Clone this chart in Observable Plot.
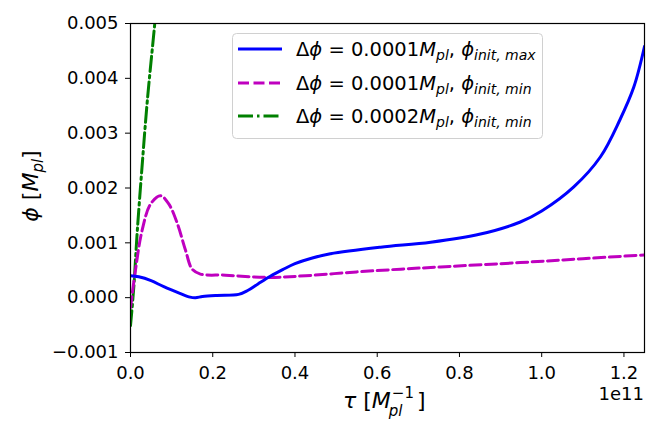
<!DOCTYPE html>
<html>
<head>
<meta charset="utf-8">
<script src="https://cdn.jsdelivr.net/npm/d3@7"></script>
<script src="https://cdn.jsdelivr.net/npm/@observablehq/plot@0.6"></script>
<style>
  body { margin: 0; background: #fff; }
  #chart svg { display: block; }
</style>
</head>
<body>
<div id="chart"></div>
<script>
// tau in units of 1e11 M_pl^-1, phi in M_pl
const blueTau = [0, 0.02, 0.05, 0.081, 0.12, 0.145, 0.158, 0.175, 0.21, 0.263, 0.285, 0.31, 0.34, 0.37, 0.40, 0.44, 0.486, 0.608, 0.73, 0.851, 0.948, 1.0, 1.078, 1.143, 1.19, 1.224, 1.25];
const bluePhi = [0.00040, 0.00038, 0.00031, 0.00020, 0.00008, 0.00001, 0.00000, 0.00002, 0.00004, 0.00006, 0.00013, 0.00025, 0.00039, 0.00051, 0.00062, 0.00072, 0.00080, 0.00092, 0.00101, 0.00116, 0.00138, 0.00158, 0.00202, 0.00257, 0.00324, 0.00384, 0.00458];

const magTau = [0, 0.012, 0.028, 0.049, 0.073, 0.093, 0.114, 0.134, 0.15, 0.17, 0.231, 0.336, 0.426, 0.55, 0.657, 0.754, 0.948, 1.1, 1.25];
const magPhi = [-0.00018, 0.00050, 0.00122, 0.00171, 0.00186, 0.00171, 0.00135, 0.00086, 0.00052, 0.00043, 0.00041, 0.00037, 0.00040, 0.00047, 0.00052, 0.00056, 0.00064, 0.00071, 0.00078];

const greenTau = [0, 0.008, 0.016, 0.028, 0.041, 0.059, 0.066];
const greenPhi = [-0.00051, 0.00019, 0.00116, 0.00238, 0.00360, 0.00500, 0.00560];

const xTicks = [0, 0.2, 0.4, 0.6, 0.8, 1.0, 1.2];
const yTicks = [-0.001, 0, 0.001, 0.002, 0.003, 0.004, 0.005];

const blue = blueTau.map((t, i) => ({tau: t, phi: bluePhi[i]}));
const mag = magTau.map((t, i) => ({tau: t, phi: magPhi[i]}));
const green = greenTau.map((t, i) => ({tau: t, phi: greenPhi[i]}));

const W = 664, H = 443;
const mL = 130, mR = 20, mT = 23, mB = 91;

const chart = Plot.plot({
  width: W, height: H,
  marginLeft: mL, marginRight: mR, marginTop: mT, marginBottom: mB,
  style: {fontFamily: "DejaVu Sans", fontSize: "18px", color: "black", background: "white", overflow: "visible"},
  x: {domain: [0, 1.25]},
  y: {domain: [-0.001, 0.005]},
  marks: [
    Plot.line(green, {x: "tau", y: "phi", stroke: "#008000", strokeWidth: 3, curve: "catmull-rom", strokeDasharray: "15,4,2.5,4", clip: true}),
    Plot.line(mag, {x: "tau", y: "phi", stroke: "#bf00bf", strokeWidth: 3, curve: "catmull-rom", strokeDasharray: "11,4.5", clip: true}),
    Plot.line(blue, {x: "tau", y: "phi", stroke: "#0000ff", strokeWidth: 3, curve: "catmull-rom", clip: true}),
    Plot.frame({stroke: "black", strokeWidth: 1.2}),
    Plot.axisX({ticks: xTicks, tickFormat: d3.format(".1f"), tickSize: 5, tickPadding: 9, label: null, fontSize: 18}),
    Plot.axisY({ticks: yTicks, tickFormat: d3.format(".3f"), tickSize: 5, tickPadding: 7, label: null, fontSize: 18})
  ]
});
document.getElementById("chart").appendChild(chart);

const svg = d3.select(chart);
const ff = "DejaVu Sans";

// helper: place a text piece and return its end x
function piece(parent, x, y, txt, size, italic) {
  const t = parent.append("text").attr("x", x).attr("y", y)
    .attr("text-anchor", "start").attr("font-family", ff).attr("font-size", size)
    .attr("fill", "black").attr("font-style", italic ? "italic" : "normal").text(txt);
  return x + t.node().getComputedTextLength();
}

// Y label (rotated)
const yl = svg.append("text")
  .attr("transform", "translate(38,186) rotate(-90)")
  .attr("text-anchor", "middle")
  .attr("font-family", ff).attr("font-size", 22).attr("fill", "black");
yl.append("tspan").attr("font-style", "italic").text("ϕ");
yl.append("tspan").text(" [");
yl.append("tspan").attr("font-style", "italic").text("M");
yl.append("tspan").attr("font-style", "italic").attr("font-size", 15).attr("dy", 5).text("pl");
yl.append("tspan").attr("dy", -5).text("]");

// X label
{
  const g = svg.append("g");
  let x = piece(g, 343, 408, "τ", 22, true);
  x = piece(g, x, 408, " [", 22, false);
  x = piece(g, x, 408, "M", 22, true);
  const xs = piece(g, x - 2, 416, "pl", 15, true);
  const xp = piece(g, x + 1, 398, "−1", 15, false);
  piece(g, Math.max(xs, xp) + 3, 408, "]", 22, false);
}

// offset text
svg.append("text").attr("x", W - mR).attr("y", 400)
  .attr("text-anchor", "end").attr("font-family", ff).attr("font-size", 18).attr("fill", "black")
  .text("1e11");

// Legend
const lg = svg.append("g").attr("text-anchor", "start");
lg.append("rect").attr("x", 232.5).attr("y", 33.5).attr("width", 310).attr("height", 105)
  .attr("rx", 4).attr("fill", "white").attr("fill-opacity", 0.8).attr("stroke", "#d0d0d0").attr("stroke-width", 1);
const entries = [
  {color: "#0000ff", dash: null, val: "0.0001", sub: "init, max", y: 49},
  {color: "#bf00bf", dash: "11,4.5", val: "0.0001", sub: "init, min", y: 83},
  {color: "#008000", dash: "15,4,2.5,4", val: "0.0002", sub: "init, min", y: 116}
];
for (const e of entries) {
  const ln = lg.append("line").attr("x1", 238).attr("x2", 282).attr("y1", e.y).attr("y2", e.y)
    .attr("stroke", e.color).attr("stroke-width", 3);
  if (e.dash) ln.attr("stroke-dasharray", e.dash);
  const t = lg.append("text").attr("x", 296).attr("y", e.y + 7)
    .attr("text-anchor", "start")
    .attr("font-family", ff).attr("font-size", 19.5).attr("fill", "black");
  t.append("tspan").text("Δ");
  t.append("tspan").attr("font-style", "italic").text("ϕ");
  t.append("tspan").text(" = " + e.val);
  t.append("tspan").attr("font-style", "italic").text("M");
  t.append("tspan").attr("font-style", "italic").attr("font-size", 14).attr("dy", 4).text("pl");
  t.append("tspan").attr("dy", -4).text(", ");
  t.append("tspan").attr("font-style", "italic").text("ϕ");
  t.append("tspan").attr("font-style", "italic").attr("font-size", 14).attr("dy", 4).text(e.sub);
}
</script>
</body>
</html>
